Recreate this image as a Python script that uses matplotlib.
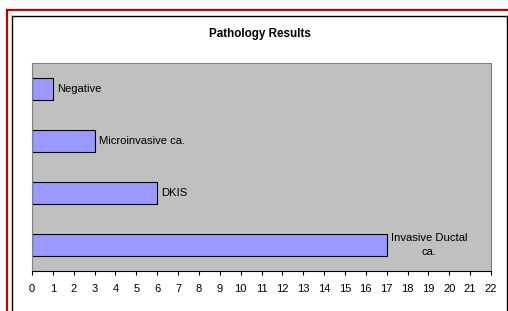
import matplotlib
matplotlib.use("Agg")
import matplotlib.pyplot as plt
from matplotlib.lines import Line2D

categories = ["Negative", "Microinvasive ca.", "DKIS", "Invasive Ductal\nca."]
values = [1, 3, 6, 17]
xticks = list(range(0, 23))

plt.rcParams['font.family'] = ['Liberation Sans', 'DejaVu Sans']

W, H = 508, 311
fig = plt.figure(figsize=(W / 100, H / 100), dpi=100)

def fx(x):
    return x / W

def fy(y):
    return 1 - y / H

# borders
fig.add_artist(Line2D([fx(7), fx(508)], [fy(10), fy(10)], color='#c00000', lw=1.6))
fig.add_artist(Line2D([fx(7), fx(7)], [fy(10), fy(311)], color='#c00000', lw=1.6))
fig.add_artist(Line2D([fx(12), fx(507)], [fy(16), fy(16)], color='#000000', lw=1.0))
fig.add_artist(Line2D([fx(12), fx(12)], [fy(16), fy(311)], color='#000000', lw=1.0))
fig.add_artist(Line2D([fx(507), fx(507)], [fy(16), fy(311)], color='#000000', lw=1.0))

ax = fig.add_axes([fx(32), fy(271), (491 - 32) / W, (271 - 63) / H])
ax.set_facecolor('#C0C0C0')

ypos = list(range(len(categories)))
ax.barh(ypos, values, height=0.42, color='#9999FF', edgecolor='black', linewidth=0.8)
for y, v, c in zip(ypos, values, categories):
    ax.text(v + 0.2, y, c, va='center', ha='left', fontsize=8.1,
            multialignment='center', linespacing=1.4)

ax.set_xlim(0, 22)
ax.set_ylim(3.5, -0.5)
ax.set_xticks(xticks)
ax.set_xticklabels([str(t) for t in xticks], fontsize=8)
ax.set_yticks([])
ax.tick_params(axis='x', direction='out', length=3, width=0.8, pad=6, color='black')
for s in ['top', 'right', 'left']:
    ax.spines[s].set_color('#808080')
    ax.spines[s].set_linewidth(0.8)
ax.spines['bottom'].set_color('black')
ax.spines['bottom'].set_linewidth(0.8)

fig.text(fx(260), fy(34), "Pathology Results", ha='center', va='center', fontsize=8.4, fontweight='bold')

fig.savefig("out.png", dpi=100)
